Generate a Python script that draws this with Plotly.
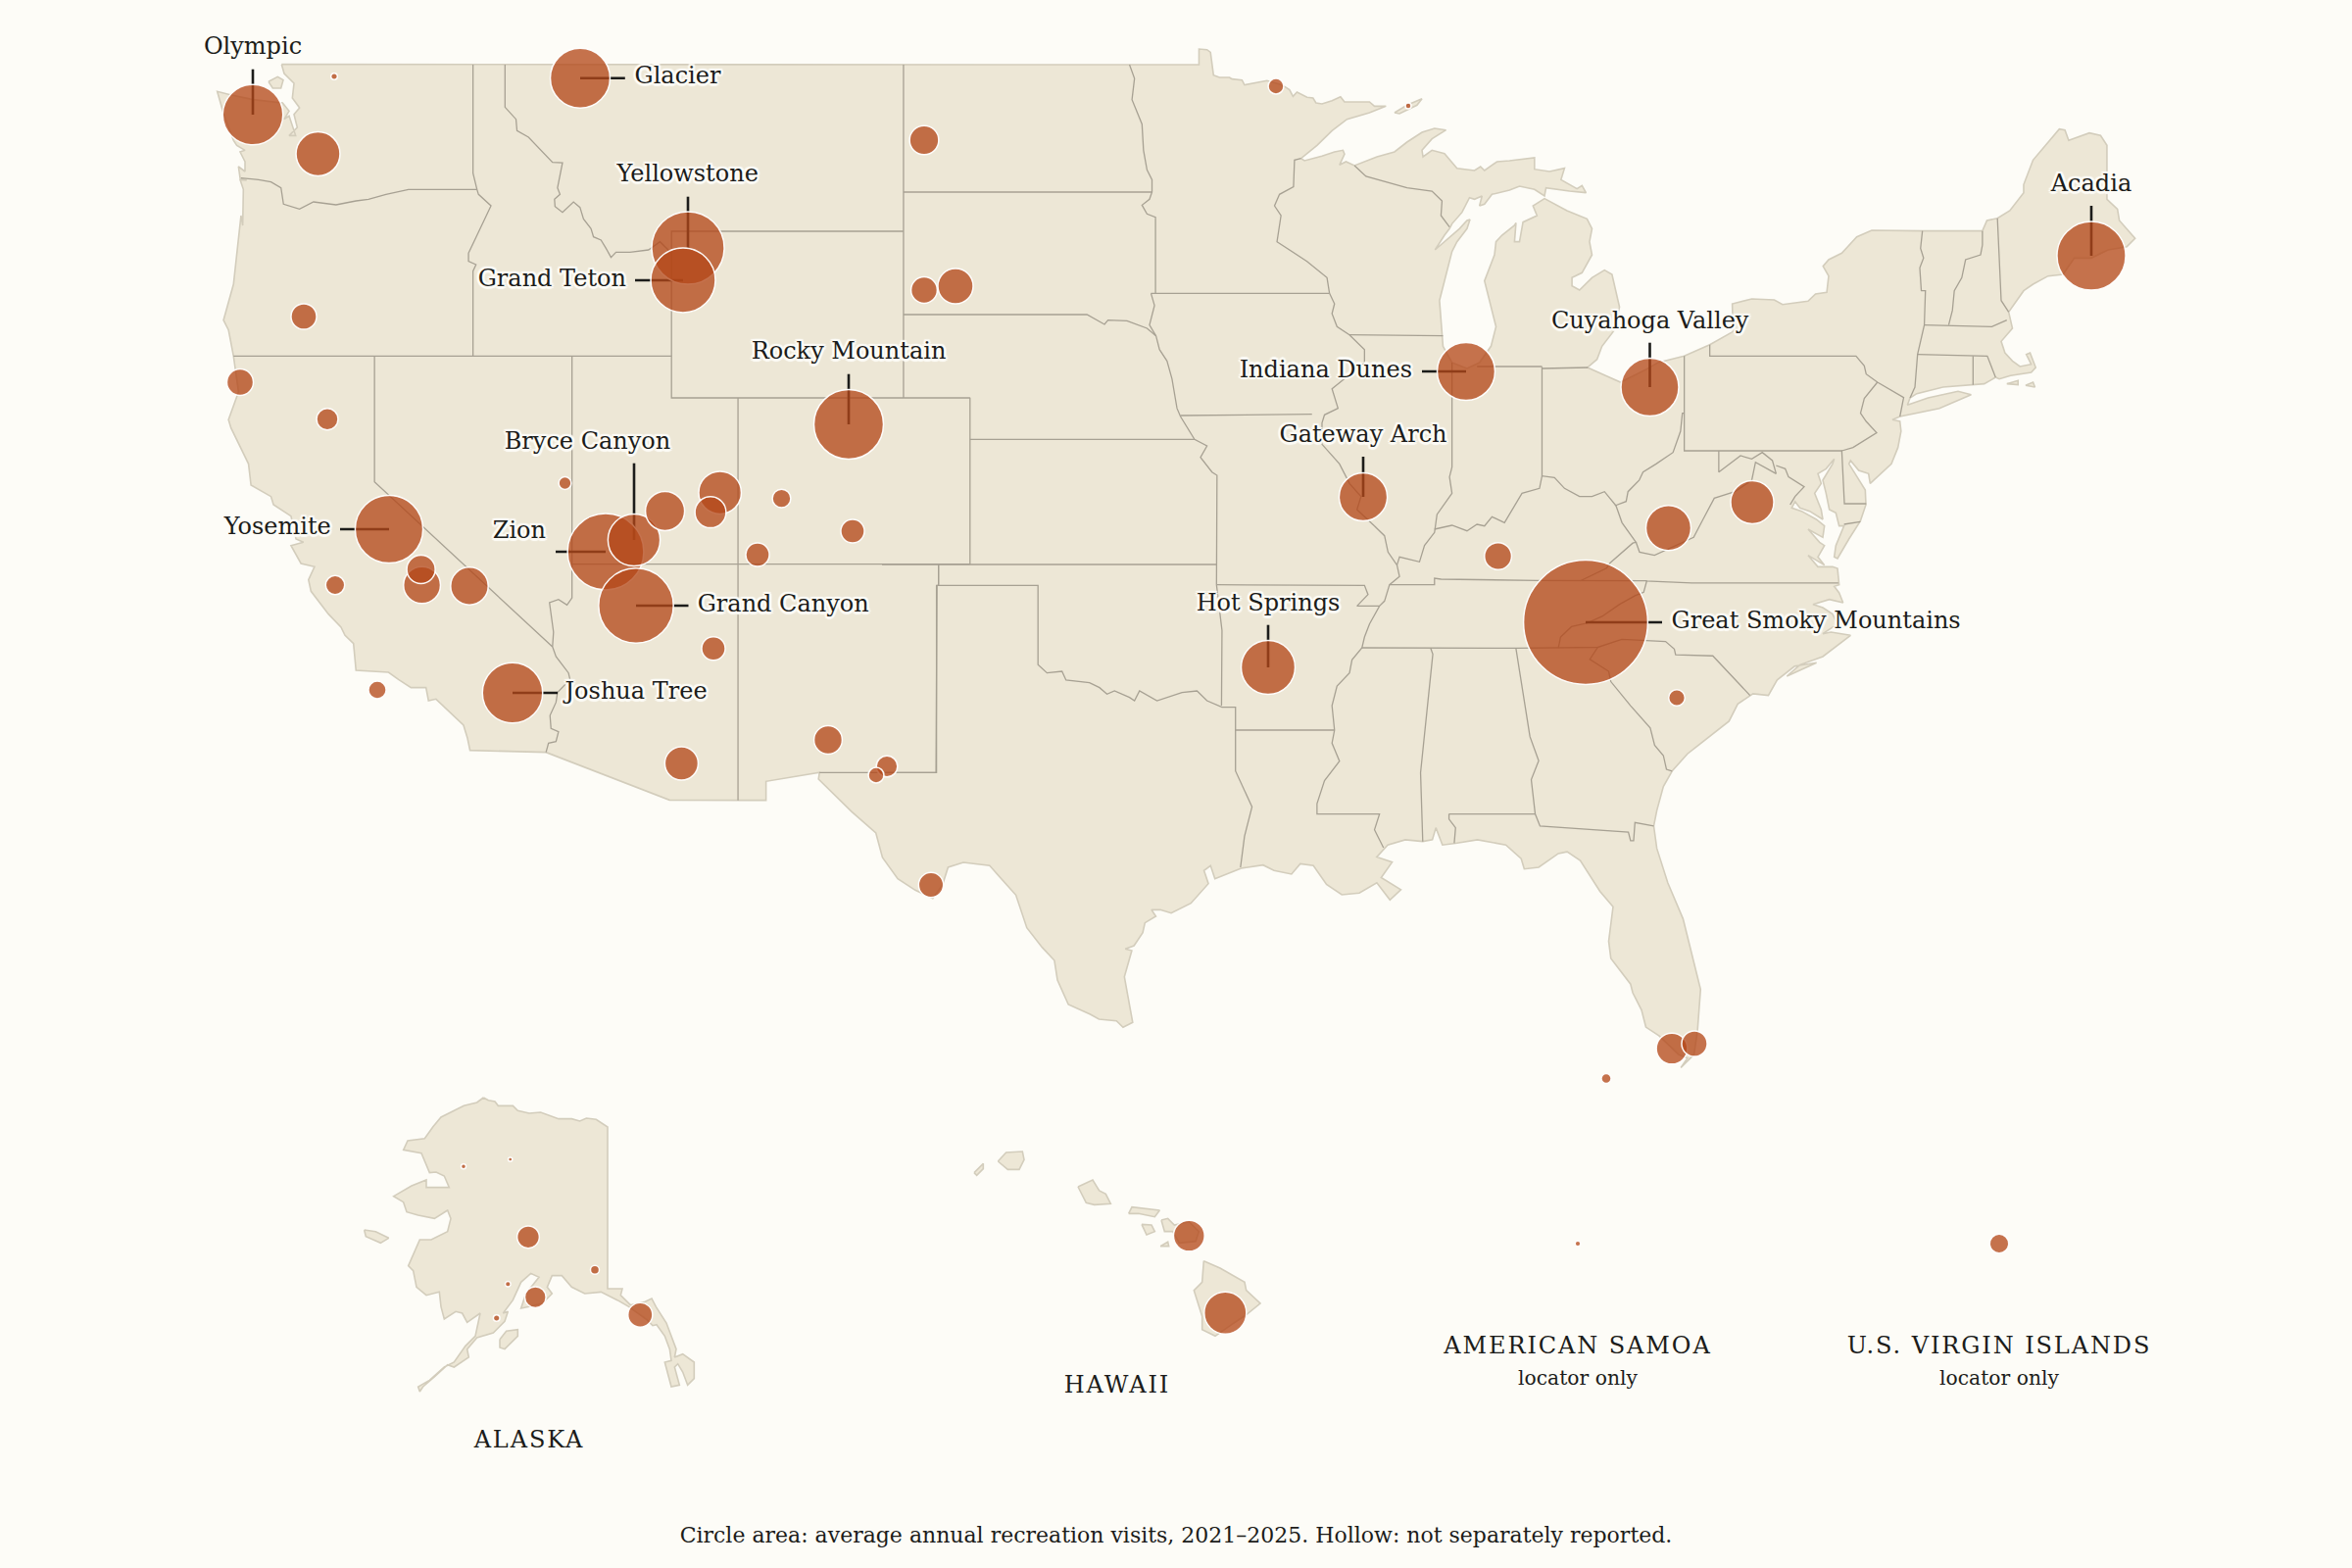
import plotly.graph_objects as go

# ---------- chart values ----------
park_names = ["Great Smoky Mountains","Zion","Grand Canyon","Yellowstone","Rocky Mountain","Acadia","Yosemite","Grand Teton",
 "Olympic","Joshua Tree","Glacier","Cuyahoga Valley","Indiana Dunes","Hot Springs","Bryce Canyon","Gateway Arch",
 "New River Gorge","Mount Rainier","Shenandoah","Arches","Glacier Bay","Hawaii Volcanoes","Capitol Reef","Death Valley","Sequoia",
 "Badlands","Saguaro","Canyonlands","Everglades","Haleakala","Theodore Roosevelt","Kings Canyon","White Sands","Mammoth Cave",
 "Redwood","Wind Cave","Crater Lake","Biscayne","Big Bend","Petrified Forest","Mesa Verde","Great Sand Dunes","Denali","Lassen Volcanic",
 "Carlsbad Caverns","Kenai Fjords","Pinnacles","Virgin Islands","Black Canyon","Channel Islands","Congaree","Guadalupe Mountains",
 "Voyageurs","Great Basin","Dry Tortugas","Wrangell-St. Elias","Katmai","North Cascades","Isle Royale","Lake Clark","Kobuk Valley",
 "Gates of the Arctic","National Park of American Samoa"]
park_visits = [12.76,4.80,4.63,4.35,4.00,3.90,3.80,3.45,3.00,3.00,2.95,2.76,2.76,2.40,2.25,1.92,1.68,1.60,1.54,1.50,0.50,1.47,1.27,1.17,1.13,
 1.03,0.92,0.80,0.80,0.80,0.70,0.67,0.66,0.61,0.58,0.57,0.54,0.54,0.51,0.46,0.46,0.46,0.41,0.38,0.37,0.37,0.30,0.30,0.28,0.26,0.22,0.20,
 0.20,0.13,0.08,0.065,0.035,0.035,0.028,0.025,0.02,0.014,0.025]
park_x = [1618,618,649,702,866,2134,397,697,258,523,592,1683.5,1496,1294,647,1391,1702.5,324.5,1788,734.7,653.3,1250.3,678.6,479,430.6,
 975,695.4,725,1706,1213.3,943,429.6,845,1528.6,245,943,310,1729,950,728,773,870,539,334,905,546.3,342,2040,797.5,385,1711,894,
 1302,576.5,1639,607,506.7,341,1437,518.3,473,520.7,1610]
park_y = [635,563,618,253,433,261,540,286,117,707,79.7,395,379,681,551,507,538.7,157,512.5,502.7,1341.7,1339.7,521.5,598,597,
 292,779,522.7,1070,1261,143,581,755,567.5,390,296,323,1065,903,661.7,566,542,1262.3,427.7,782,1323.7,597,1269,508.7,704,712,791,
 88,493,1100.5,1295.7,1345,78,108,1310.3,1190.3,1183,1269]

labels = ["Olympic","Glacier","Yellowstone","Grand Teton","Rocky Mountain","Bryce Canyon","Zion","Yosemite","Grand Canyon",
          "Joshua Tree","Indiana Dunes","Cuyahoga Valley","Acadia","Gateway Arch","Hot Springs","Great Smoky Mountains"]
label_x = [258,647.5,701.7,639,866,599.5,557,337.8,711.7,576.5,1441,1683.7,2134,1391,1294,1705.5]
label_y = [49,79,179,286,360,452,543,539,618,707,378.7,329,189,445,617,635]
label_pos = ["middle center","middle right","middle center","middle left","middle center","middle center","middle left","middle left",
             "middle right","middle right","middle left","middle center","middle center","middle center","middle center","middle right"]
leader_end = {"Olympic":(258,70.7),"Glacier":(637.8,79.7),"Yellowstone":(702,200.7),"Grand Teton":(648,286),"Rocky Mountain":(866,381.7),
 "Bryce Canyon":(647,472.7),"Zion":(567,563),"Yosemite":(347,540),"Grand Canyon":(702.5,618),"Joshua Tree":(569,707),
 "Indiana Dunes":(1451,379),"Cuyahoga Valley":(1683.5,349.7),"Acadia":(2134,210),"Gateway Arch":(1391,466),"Hot Springs":(1294,637.7),
 "Great Smoky Mountains":(1696,635)}

region_names = ["ALASKA","HAWAII","AMERICAN SAMOA","U.S. VIRGIN ISLANDS"]
region_x = [540,1140,1610,2040]
region_y = [1470.5,1414.5,1374.5,1374.5]
note_names = ["locator only","locator only"]
note_x = [1610,2040]
note_y = [1408,1408]
caption = "Circle area: average annual recreation visits, 2021–2025. Hollow: not separately reported."

# ---------- map geometry (traced in picture frames: origin x, origin y, x scale, y scale) ----------
A=(200,20,1.96,3); B=(200,400,1.96,3); C=(900,20,1.96,3); D=(1600,100,2.613,3); E=(900,400,1.96,3)
F=(1300,550,2.24,2.851); G=(350,1100,3,3); H=(970,1150,3,3); I=(800,800,2.24,3); J=(1760,440,3,3); K=(215,60,3,3)
def tr(fr, pts):
    return [(fr[0]+p[0]/fr[2], fr[1]+p[1]/fr[3]) for p in pts]

coast = (
 tr(K,[(217,17)])
 + tr(C,[(634,138),(634,90),(650,92),(657,100),(663,170),(675,177),(695,177),(700,182),(720,185),(725,200),(745,195),(770,187),(800,200),(815,215),(822,235),(830,222),(850,238),(862,240),(868,255),(880,258),(900,248),(917,236),(925,252),(975,252),(985,265),(1008,265),(975,285),(930,305),(900,340),(870,385),(838,425),(845,432),(880,418),(905,405),(922,400),(925,412),(915,445),(928,435),(945,447),(990,420),(1025,405),(1050,375),(1080,345),(1105,333),(1128,338),(1100,365),(1080,400),(1082,420),(1100,400),(1125,410),(1150,455),(1170,458),(1185,462),(1197,450),(1205,462),(1230,435),(1255,432),(1305,423),(1305,458),(1335,465),(1365,455),(1358,490),(1375,505),(1390,518),(1400,508),(1408,530),(1375,525),(1345,520),(1328,515),(1325,540),(1305,520),(1275,510),(1255,522),(1220,535),(1205,565),(1195,570),(1200,540),(1185,550),(1175,545),(1160,590),(1140,625),(1135,640),(1125,660),(1106,705),(1125,680),(1155,640),(1170,615),(1176,612),(1170,640),(1150,680),(1140,710),(1130,770),(1115,860),(1120,960),(1122,1000),(1140,1050),(1170,1068),(1195,1050),(1218,1000),(1228,940),(1215,860),(1205,800),(1225,720),(1228,680),(1240,660),(1265,630),(1268,622),(1265,680),(1275,680),(1282,620),(1310,600),(1302,570),(1325,548),(1370,585),(1410,610),(1420,640),(1415,680),(1420,720),(1400,775),(1380,790),(1380,815),(1395,828),(1420,790),(1445,767),(1460,780),(1475,880),(1465,950),(1440,1000),(1430,1040),(1412,1065)])
 + tr(D,[(52,825),(100,850),(140,870),(210,830),(240,810),(310,790),(378,755),(440,715),(438,630),(490,615),(550,618),(572,632),(640,622),(660,600),(690,595),(695,545),(680,515),(695,495),(730,475),(770,425),(810,405),(945,407),(1105,407),(1117,375),(1145,368),(1178,345),(1215,290),(1215,265),(1240,190),(1310,95),(1325,98),(1335,130),(1390,107),(1420,115),(1437,145),(1437,310),(1465,340),(1470,375),(1512,430),(1490,455),(1440,465),(1395,490),(1350,490),(1320,540),(1280,545),(1240,570),(1215,590),(1175,655),(1185,705),(1155,745),(1165,780),(1185,805),(1205,822),(1235,815),(1222,785),(1232,780),(1247,825),(1235,840),(1180,850),(1150,860),(1140,855),(1110,875),(1080,878),(1000,885),(930,905),(912,918),(905,940),(960,918),(1040,898),(1075,908),(990,950),(885,975),(865,985),(885,990),(888,1020)])
 + tr(J,[(530,50),(510,100),(445,160),(440,130),(410,120),(385,90),(380,100),(405,140),(430,180),(432,225),(415,275),(380,330),(345,390),(335,385),(340,350),(365,290),(350,290),(340,250),(320,240),(310,190),(300,150),(330,100),(335,85),(310,115),(285,130),(295,160),(275,190),(295,240),(300,270),(260,245),(230,235),(215,215),(205,235),(235,245),(280,270),(305,290),(300,325),(255,300),(290,340),(305,350),(285,385),(305,410),(255,380),(285,415),(330,415),(345,420),(350,470),(335,475),(350,495),(362,525),(320,515),(270,530),(300,540),(330,560),(345,590),(300,620),(325,615),(385,625),(340,660),(300,690),(230,715),(190,750)])
 + tr(F,[(1240,360),(1190,370),(1150,410),(1130,455),(1095,450),(1060,480),(1040,530),(1000,570),(945,625),(910,675),(890,720),(875,790),(868,835),(875,900),(900,1000),(935,1105),(970,1290),(975,1310),(968,1430),(960,1500),(930,1538),(945,1510),(925,1500),(880,1445),(850,1420),(840,1370),(820,1320),(815,1295),(770,1220),(765,1170),(775,1070),(745,1025),(700,935),(670,910),(650,915),(605,955),(572,960),(565,930),(530,890),(465,875),(415,885),(385,890),(370,840),(362,875),(340,880),(300,875),(260,890),(235,925),(270,940),(245,985),(290,1020),(265,1050),(235,1000),(195,1030),(155,1035),(120,1005),(90,950),(60,945),(40,975),(0,965)])
 + tr(I,[(1120,265),(1095,248),(1045,258),(985,290),(975,250),(960,265),(970,305),(930,365),(885,395),(860,385),(840,385),(850,405),(825,425),(820,455),(800,495),(780,505),(795,510),(778,590),(797,730),(775,745),(760,725),(720,720),(700,705),(650,675),(625,600),(618,540),(590,500),(555,440),(530,340),(480,265),(470,250),(410,240),(375,255),(362,310),(340,350),(300,325),(260,290),(225,225),(210,150),(155,85)])
 + tr(B,[(1262,1210),(1245,1185),(1247,1165),(1140,1192),(1140,1250),(947,1249),(700,1103),(548,1097),(543,1060),(535,1020),(480,940),(465,945),(460,905),(430,905),(405,880),(385,858),(320,852),(315,770),(298,745),(290,720),(265,680),(230,610),(225,575),(237,535),(210,525),(190,470),(215,460),(200,450),(190,380),(155,345),(150,320),(110,285),(105,220),(70,110),(65,85),(85,0)])
 + tr(A,[(75,1030),(65,950),(55,920),(75,810),(90,600)])
 + tr(K,[(98,510),(100,400),(90,370),(110,372),(90,365),(85,330),(105,345),(105,315),(90,285),(105,280),(80,265),(70,250),(40,170),(20,100),(60,110),(130,125),(220,135),(240,160),(225,185),(240,175),(260,235),(240,235),(265,210),(255,170),(272,150),(250,120),(255,75),(225,45),(217,17)])
)
islands = [
 tr(K,[(177,70),(205,55),(222,65),(215,90),(190,90)]),
 tr(C,[(1025,285),(1050,262),(1080,242),(1070,262),(1035,288)]),
 tr(D,[(1170,875),(1200,865),(1200,878)]),
 tr(D,[(1220,880),(1240,870),(1245,885)]),
 tr(G,[(430,60),(445,68),(465,72),(475,85),(520,85),(535,100),(570,108),(605,105),(660,125),(700,125),(725,132),(745,123),(775,127),(810,150),(810,645),(855,645),(850,665),(880,695),(925,685),(945,675),(958,700),(990,750),(1020,830),(1015,855),(1040,845),(1075,870),(1075,920),(1055,940),(1040,900),(1025,875),(1015,885),(1030,940),(1005,945),(985,870),(1005,865),(1000,830),(985,790),(960,755),(948,758),(930,740),(875,700),(840,680),(790,655),(740,660),(700,640),(670,605),(640,605),(625,640),(640,660),(610,690),(570,700),(545,705),(560,660),(600,610),(575,598),(545,625),(520,680),(490,720),(505,715),(495,745),(460,780),(410,795),(380,830),(385,855),(340,885),(320,878),(280,915),(245,945),(235,960),(230,945),(265,925),(310,885),(340,870),(375,820),(405,790),(420,720),(380,748),(365,720),(345,715),(310,738),(300,700),(295,655),(255,665),(225,640),(215,590),(200,575),(235,495),(270,495),(320,470),(330,430),(320,405),(280,430),(230,420),(195,410),(185,380),(155,362),(210,330),(255,312),(255,335),(325,335),(310,300),(285,288),(265,290),(240,230),(185,220),(198,192),(250,185),(275,150),(300,120),(340,100),(370,85),(410,75)]),
 tr(G,[(480,800),(500,775),(535,770),(535,790),(495,830),(480,825)]),
 tr(G,[(65,465),(100,470),(140,490),(115,505),(70,485)]),
 tr(H,[(145,105),(170,78),(220,75),(225,100),(210,130),(175,130)]),
 tr(H,[(72,140),(100,112),(100,128),(80,148)]),
 tr(H,[(390,183),(435,162),(455,195),(475,205),(490,235),(440,238),(415,232)]),
 tr(H,[(545,265),(555,245),(640,255),(625,275),(575,265)]),
 tr(H,[(585,298),(615,300),(625,320),(600,330)]),
 tr(H,[(642,365),(665,352),(668,365)]),
 tr(H,[(645,285),(665,280),(685,300),(730,290),(760,320),(750,350),(700,355),(680,320),(655,320)]),
 tr(H,[(775,410),(825,432),(900,475),(905,500),(948,540),(905,575),(860,605),(810,640),(770,620),(770,580),(745,500),(770,475)]),
]
borders = [
 tr(A,[(554,138),(554,470),(562,520),(565,535),(590,570),(565,650),(545,715),(545,740),(560,750),(554,770),(554,1030)]),
 tr(A,[(90,485),(125,490),(150,497),(170,515),(175,565),(207,580),(235,558),(280,567),(320,555),(345,550),(380,535),(425,520),(562,520)]),
 tr(A,[(618,138),(618,268),(640,305),(642,340),(665,360),(695,410),(713,437),(733,438),(723,515),(728,535),(717,550),(718,572),(733,590),(755,558),(768,575),(775,610),(790,640),(795,665),(810,675),(820,700),(830,728),(840,712),(868,712),(905,705),(928,680),(951,715)]),
 tr(A,[(1415,648),(951,648),(951,1158),(1548,1158)]),
 tr(A,[(75,1030),(951,1030)]),
 tr(A,[(357,1030)])+tr(B,[(357,275),(713,780)]),
 tr(A,[(752,1030)])+tr(B,[(752,630),(742,652),(725,635),(707,645),(715,735),(713,780),(720,810),(745,860),(748,880),(723,920),(720,950),(708,990),(710,1030),(725,1040),(720,1070),(705,1075),(700,1103)]),
 tr(A,[(1084,1158)])+tr(B,[(1084,527)]),
 tr(B,[(752,527),(1548,527)]),
 tr(B,[(1084,527),(1084,1250)]),
 tr(B,[(1485,527),(1485,592),(1481,592),(1481,1165),(1247,1165)]),
 tr(A,[(1415,138),(1415,1158)]),
 tr(A,[(1415,528)])+tr(C,[(540,528)]),
 tr(A,[(1415,903)])+tr(C,[(410,903),(445,933),(452,920),(490,922),(530,945),(548,968)]),
 tr(C,[(495,138),(505,180),(500,245),(520,320),(523,400),(530,460),(540,490),(540,528),(535,550),(520,568),(530,595),(547,605),(547,838)]),
 tr(C,[(538,838),(895,838)]),
 tr(C,[(538,838),(545,875),(535,935),(548,968),(555,1010),(570,1045),(580,1100),(590,1190)])+tr(E,[(597,75),(625,145),(650,165),(637,200),(660,245),(670,255),(669,590)]),
 tr(E,[(176,17),(176,528)]),
 tr(E,[(176,145),(625,145)]),
 tr(E,[(0,528),(669,528)]),
 tr(E,[(597,72),(860,68)]),
 tr(C,[(895,838),(905,870),(900,900),(910,940),(935,965),(965,1010),(965,1050),(915,1110),(900,1130),(912,1190)])+tr(E,[(885,70),(880,95),(880,160),(915,220),(935,280),(958,320),(950,360),(985,410),(1005,440),(1012,490),(1030,530),(1035,565),(1015,590),(1005,640),(995,655),(975,710),(965,750),(960,783),(940,820),(935,860),(910,900),(900,960),(905,1035),(900,1075),(915,1130),(885,1190),(870,1260),(870,1292),(995,1292),(985,1340),(1003,1395)]),
 tr(E,[(669,590),(965,592),(972,620),(950,655),(995,655)]),
 tr(E,[(113,528),(113,590)]),
 tr(E,[(110,592),(312,592),(312,835),(330,860),(360,855),(368,882),(415,890),(435,905),(450,925),(465,915),(495,935),(505,945),(515,915),(550,945),(600,920),(630,915),(650,945),(680,965),(707,965),(707,1160),(740,1270),(725,1360),(717,1455)]),
 tr(E,[(110,592),(108,1165),(0,1165)]),
 tr(E,[(669,590),(680,730),(679,960)]),
 tr(E,[(707,1035),(905,1035)]),
 tr(E,[(1015,590),(1105,590),(1105,570),(1118,573),(1310,577),(1530,578)])+tr(F,[(850,122),(955,128),(1290,128)]),
 tr(F,[(852,122),(845,155),(825,165),(790,190),(750,225),(715,245),(680,255),(655,285),(650,317)]),
 tr(E,[(960,783),(1270,784)])+tr(F,[(740,315),(795,292),(895,298),(915,320),(918,337),(1003,340),(1088,455)]),
 tr(F,[(740,315),(722,350),(765,385),(770,415),(815,485),(860,550),(870,600),(890,630),(897,670),(910,675)]),
 tr(F,[(553,318),(585,575),(605,645),(588,700),(597,800),(608,835),(810,853),(815,878),(822,878),(825,825),(868,835)]),
 tr(F,[(400,800),(597,800)]),
 tr(F,[(400,800),(400,815),(415,840),(412,885)]),
 tr(F,[(358,317),(363,335),(335,680),(340,880)]),
 tr(F,[(700,122),(760,85),(768,70),(820,12)])+tr(E,[(1508,460),(1480,400),(1468,348)]),
 tr(E,[(1508,460),(1515,490),(1545,500)])+tr(D,[(335,1345),(360,1290),(390,1225),(445,1205),(490,1170),(500,1115),(555,1150)]),
 tr(D,[(125,1248),(155,1235),(160,1205),(190,1170),(200,1145),(235,1120),(280,1085),(300,1020),(305,965),(310,965)]),
 tr(E,[(1105,420),(1140,408),(1170,425),(1190,405),(1205,410),(1220,382),(1245,400),(1280,310),(1315,295),(1320,257),(1345,262),(1365,295),(1395,320),(1420,320),(1445,305),(1468,348)]),
 tr(C,[(1320,1063)])+tr(E,[(1320,257)]),
 tr(C,[(1190,1062),(1320,1062)]),
 tr(C,[(1320,1068),(1412,1065)]),
 tr(C,[(1140,1050)])+tr(E,[(1140,230),(1135,260),(1140,310),(1110,375),(1105,420),(1105,430),(1085,470),(1075,520),(1035,505),(1030,530)]),
 tr(C,[(935,965),(1122,968)]),
 tr(C,[(838,425),(825,430),(823,512),(795,535),(785,570),(798,600),(790,680),(820,710),(850,740),(890,790),(895,838)]),
 tr(C,[(945,447),(968,480),(1050,515),(1100,525),(1120,555),(1118,600),(1135,635)]),
 tr(D,[(310,790),(310,1080),(730,1080),(737,1242),(795,1242)]),
 tr(D,[(378,755),(378,790),(768,790),(790,820),(795,845),(825,870),(895,917),(885,975)]),
 tr(D,[(825,870),(790,920),(780,965),(795,990),(823,1025),(760,1070),(730,1080)]),
 tr(D,[(402,1080),(402,1145),(460,1095),(490,1105),(518,1085),(545,1110),(555,1150)]),
 tr(J,[(157,105),(185,115),(195,140),(225,160),(243,170),(215,200),(200,225)]),
 tr(J,[(365,285),(415,277)]),
 tr(D,[(945,407),(940,460),(948,490),(938,520),(942,590),(953,590),(950,695),(932,785),(925,885),(912,918)]),
 tr(D,[(1105,407),(1105,450),(1100,480),(1060,495),(1050,550),(1030,590),(1025,650),(1015,695)]),
 tr(D,[(1145,368),(1155,620),(1175,655)]),
 tr(D,[(950,695),(1130,700),(1170,680)]),
 tr(D,[(932,785),(1118,790),(1140,855)]),
 tr(D,[(1080,790),(1080,878)]),
]

def flatten(polys):
    xs, ys = [], []
    for p in polys:
        xs += [q[0] for q in p] + [None]
        ys += [q[1] for q in p] + [None]
    return xs, ys

BG="#fdfcf7"; LAND="#ede7d6"; COAST="#d3cdbc"; BORDER="#a7a193"; INK="#1c1c1a"; SERIF="DejaVu Serif"
HALO=", ".join(f"{dx}px {dy}px 1px {BG}" for dx,dy in [(2.5,0),(-2.5,0),(0,2.5),(0,-2.5),(1.8,1.8),(-1.8,1.8),(1.8,-1.8),(-1.8,-1.8)])

fig = go.Figure()
for poly in [coast]+islands:
    fig.add_trace(go.Scatter(x=[p[0] for p in poly]+[poly[0][0]], y=[p[1] for p in poly]+[poly[0][1]], mode="lines", fill="toself",
                             fillcolor=LAND, line=dict(color=COAST, width=1.6), hoverinfo="skip"))
bx, by = flatten(borders)
fig.add_trace(go.Scatter(x=bx, y=by, mode="lines", line=dict(color=BORDER, width=1.3), hoverinfo="skip"))

idx = {n:i for i,n in enumerate(park_names)}
lx, ly = [], []
for n in labels:
    i = idx[n]
    lx += [park_x[i], leader_end[n][0], None]
    ly += [park_y[i], leader_end[n][1], None]
fig.add_trace(go.Scatter(x=lx, y=ly, mode="lines", line=dict(color=INK, width=2.6), hoverinfo="skip"))

R2_PER_MILLION = 315
order = sorted(range(len(park_visits)), key=lambda i: -park_visits[i])
fig.add_trace(go.Scatter(
    x=[park_x[i] for i in order], y=[park_y[i] for i in order], text=[park_names[i] for i in order],
    mode="markers", hovertemplate="%{text}<extra></extra>",
    marker=dict(size=[park_visits[i] for i in order], sizemode="area", sizeref=1/(2*R2_PER_MILLION), sizemin=0, opacity=1,
                color="rgba(180,71,25,0.77)", line=dict(color="rgba(255,255,255,0.95)", width=1.5))))

fig.add_trace(go.Scatter(x=label_x, y=label_y, text=labels, mode="text", textposition=label_pos, hoverinfo="skip",
                         textfont=dict(family=SERIF, size=24, color=INK, shadow=HALO)))
fig.add_trace(go.Scatter(x=region_x, y=region_y, text=region_names, mode="text", textposition="middle center", hoverinfo="skip",
                         textfont=dict(family=SERIF, size=24, color=INK)))
fig.add_trace(go.Scatter(x=note_x, y=note_y, text=note_names, mode="text", textposition="middle center", hoverinfo="skip",
                         textfont=dict(family=SERIF, size=20.3, color=INK)))
fig.add_trace(go.Scatter(x=[1200], y=[1568], text=[caption], mode="text", textposition="middle center", hoverinfo="skip",
                         textfont=dict(family=SERIF, size=22, color=INK)))

fig.update_layout(width=2400, height=1600, margin=dict(l=0,r=0,t=0,b=0), paper_bgcolor=BG, plot_bgcolor=BG, showlegend=False,
    xaxis=dict(range=[0,2400], visible=False, fixedrange=True),
    yaxis=dict(range=[1600,0], visible=False, fixedrange=True))

post = """
document.body.style.margin='0';
document.body.style.background='#fdfcf7';
document.querySelectorAll('text').forEach(function(t){
  if(/^(ALASKA|HAWAII|AMERICAN SAMOA|U\\.S\\. VIRGIN ISLANDS)$/.test(t.textContent)){t.style.letterSpacing='1.9px';}
});
"""
fig.write_html("out.html", post_script=post, config={"displayModeBar": False})
